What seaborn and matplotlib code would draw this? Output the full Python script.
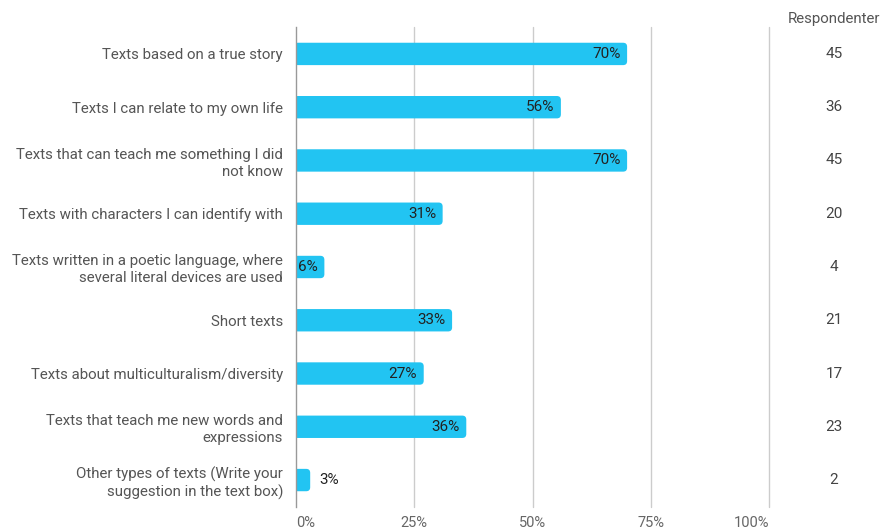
import matplotlib
matplotlib.use("Agg")
import matplotlib.pyplot as plt
import seaborn as sns
import pandas as pd
from matplotlib.patches import FancyBboxPatch
from matplotlib.transforms import blended_transform_factory

categories = [
    "Texts based on a true story",
    "Texts I can relate to my own life",
    "Texts that can teach me something I did\nnot know",
    "Texts with characters I can identify with",
    "Texts written in a poetic language, where\nseveral literal devices are used",
    "Short texts",
    "Texts about multiculturalism/diversity",
    "Texts that teach me new words and\nexpressions",
    "Other types of texts (Write your\nsuggestion in the text box)",
]
percent = [70, 56, 70, 31, 6, 33, 27, 36, 3]
respondents = [45, 36, 45, 20, 4, 21, 17, 23, 2]
x_ticks = [0, 25, 50, 75, 100]
x_tick_labels = ["0%", "25%", "50%", "75%", "100%"]
count_header = "Respondenter"

df = pd.DataFrame({"category": categories, "percent": percent})

sns.set_theme(style="white")
plt.rcParams["font.family"] = ["Roboto", "DejaVu Sans"]

BAR_COLOR = "#22C4F2"
AX_L, AX_R, AX_B, AX_T = 0.3356, 0.8719, 0.0458, 0.9486
fig = plt.figure(figsize=(8.82, 5.31), dpi=100)
ax = fig.add_axes([AX_L, AX_B, AX_R - AX_L, AX_T - AX_B])

sns.barplot(data=df, x="percent", y="category", orient="h", color=BAR_COLOR,
            width=0.42, ax=ax, saturation=1)

ax.set_xlim(0, 100)
ax.set_ylim(len(categories) - 0.5, -0.5)

# swap plain rectangles for bars with rounded corners
px_x = 100 / (AX_R - AX_L) / 882                 # data units per pixel (x)
px_y = len(categories) / (AX_T - AX_B) / 531     # data units per pixel (y)
for p in list(ax.patches):
    x0, y0 = p.get_x(), p.get_y()
    w, h = p.get_width(), p.get_height()
    p.remove()
    r = 4 * px_x
    fb = FancyBboxPatch((x0 - 2 * px_x, y0), w + 2 * px_x, h,
                        boxstyle=f"round,pad=0,rounding_size={r}",
                        mutation_aspect=px_y / px_x,
                        facecolor=BAR_COLOR, edgecolor="none", zorder=2)
    ax.add_patch(fb)

# value labels: inside the bar end, or just after it for tiny bars
for i, v in enumerate(percent):
    txt = f"{v}%"
    if v >= 5:
        ax.text(v - 1.4, i, txt, ha="right", va="center", fontsize=11,
                color="#222222", zorder=3)
    else:
        ax.text(v + 2, i, txt, ha="left", va="center", fontsize=11,
                color="#222222", zorder=3)

# grid and spines
for t in x_ticks[1:]:
    ax.axvline(t, color="#cccccc", lw=1.0, zorder=0, clip_on=False)
for s in ["top", "right", "bottom"]:
    ax.spines[s].set_visible(False)
ax.spines["left"].set_color("#999999")
ax.spines["left"].set_linewidth(1.0)
ax.spines["left"].set_zorder(4)

ax.set_xticks(x_ticks)
ax.set_xticklabels(x_tick_labels)
ax.tick_params(axis="x", length=0, pad=7, labelsize=10.5, labelcolor="#666666")
xt = ax.get_xticklabels()
xt[0].set_horizontalalignment("left")
xt[-1].set_horizontalalignment("right")
ax.tick_params(axis="y", length=0, pad=9.4, labelsize=10.8, labelcolor="#555555")
for lbl in ax.get_yticklabels():
    lbl.set_horizontalalignment("right")
    lbl.set_multialignment("right")
    lbl.set_linespacing(1.27)
ax.set_xlabel("")
ax.set_ylabel("")

# respondent counts column
col_x = 834 / 882
col_tr = blended_transform_factory(fig.transFigure, ax.transData)
for i, n in enumerate(respondents):
    ax.text(col_x, i, str(n), transform=col_tr, ha="center", va="center",
            fontsize=11, color="#444444")
fig.text(col_x, 1 - 19 / 531, count_header, ha="center", va="center",
         fontsize=10.8, color="#555555")

fig.savefig("out.png", dpi=100)
